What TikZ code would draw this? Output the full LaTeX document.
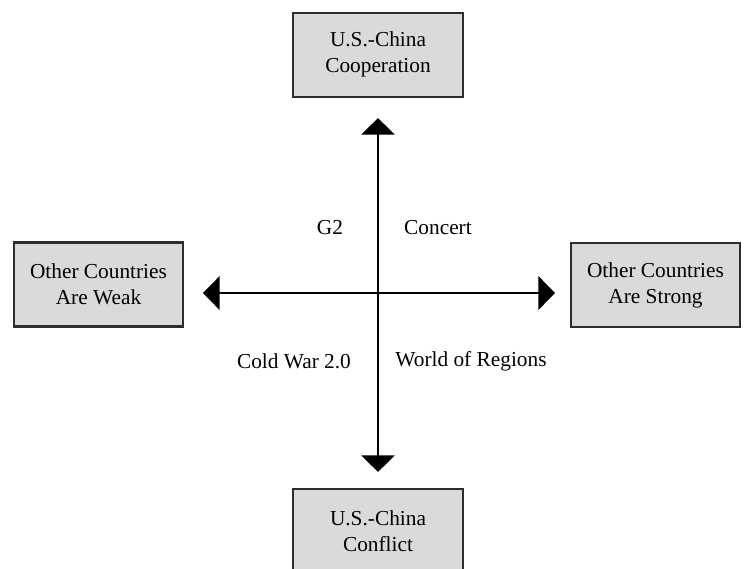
\documentclass[tikz,border=0pt]{standalone}
\usepackage{fontspec}
\setmainfont{Liberation Serif}
\usetikzlibrary{arrows.meta}

\definecolor{boxgray}{HTML}{D9DADC}
\definecolor{boxline}{HTML}{2E2E2E}

\tikzset{
  scenario/.style={draw=boxline, line width=1.6pt, fill=boxgray, minimum width=127pt, minimum height=63pt, align=center, font=\fontsize{16}{19.5}\selectfont},
  quadrant/.style={font=\fontsize{16}{18}\selectfont},
  axis/.style={line width=1.5pt, {Triangle[width=25pt,length=12.5pt]}-{Triangle[width=25pt,length=12.5pt]}}
}

\begin{document}
\begin{tikzpicture}[x=0.75pt, y=-0.75pt]
\useasboundingbox (0,0) rectangle (746,568);
\clip (0,0) rectangle (746,568);
\node[scenario, text depth=4pt] (coop) at (378,55) {U.S.-China\\Cooperation};
\node[scenario] (conflict) at (378,531) {U.S.-China\\Conflict};
\node[scenario] (weak) at (98.5,284.5) {Other Countries\\Are Weak};
\node[scenario] (strong) at (655.5,285) {Other Countries\\Are Strong};
\coordinate (mid) at (378,293);
\node[quadrant] (g2) at (330,228) {G2};
\node[quadrant] (concert) at (438,228) {Concert};
\node[quadrant] (coldwar) at (294,361) {Cold War 2.0};
\node[quadrant] (regions) at (471,361) {World of Regions};
\draw[axis, shorten <=15pt, shorten >=12pt] (coop.south) -- (conflict.north);
\draw[axis, shorten <=14pt, shorten >=11pt] (weak.east |- mid) -- (strong.west |- mid);
\end{tikzpicture}
\end{document}
